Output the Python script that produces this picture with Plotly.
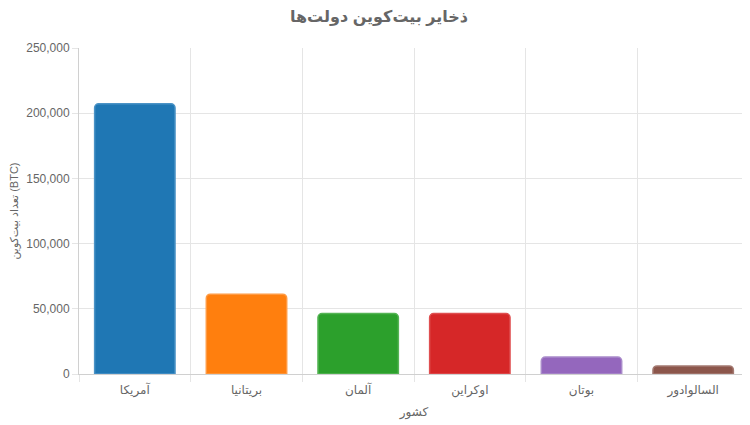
import plotly.graph_objects as go

# data
countries = ["آمریکا", "بریتانیا", "آلمان", "اوکراین", "بوتان", "السالوادور"]
btc_holdings = [207189, 61245, 46359, 46351, 13029, 6200]
bar_colors = ["#1f77b4", "#ff7f0e", "#2ca02c", "#d62728", "#9467bd", "#8c564b"]
border_colors = ["#4b93c6", "#ff9a42", "#55b455", "#df4f50", "#a98bca", "#a47a72"]

y_ticks = [0, 50000, 100000, 150000, 200000, 250000]

font_family = "Liberation Sans, Arial, DejaVu Sans, sans-serif"
grid = "#e5e5e5"

fig = go.Figure()

fig.add_trace(go.Bar(
    x=countries,
    y=btc_holdings,
    width=0.72,
    marker=dict(color=bar_colors,
                line=dict(color=border_colors, width=1.5),
                cornerradius=4),
    hoverinfo="x+y",
))

# page body has an 8px margin, so the figure is a bit smaller than the window
fig.update_layout(
    width=742, height=417,
    margin=dict(l=71, r=1, t=40, b=51),
    paper_bgcolor="white",
    plot_bgcolor="white",
    showlegend=False,
    font=dict(family=font_family, size=12, color="#666666"),
    title=dict(text="<b>ذخایر بیت‌کوین دولت‌ها</b>",
               x=0.5, xanchor="center", y=0.98, yanchor="middle",
               font=dict(size=16, color="#666666")),
)

# x axis - grid lines on the category boundaries, like chart.js
fig.update_xaxes(
    type="category",
    tickson="boundaries",
    automargin=False,
    ticks="outside", ticklen=7, tickcolor=grid,
    ticklabelstandoff=5,
    showgrid=True, gridcolor=grid, gridwidth=1,
    showline=True, linecolor="#d0d0d0", linewidth=1,
    tickfont=dict(size=12, color="#666666"),
    title=dict(text="کشور", standoff=10, font=dict(size=12, color="#666666")),
)

fig.update_yaxes(
    range=[0, 250000],
    tickvals=y_ticks,
    tickformat=",",
    automargin=False,
    ticks="outside", ticklen=6, tickcolor=grid,
    showgrid=True, gridcolor=grid, gridwidth=1,
    zeroline=False,
    showline=True, linecolor="#d0d0d0", linewidth=1,
    tickfont=dict(size=12, color="#666666"),
    title=dict(text="تعداد بیت‌کوین (BTC)", standoff=12, font=dict(size=11, color="#666666")),
)

fig.write_html("out.html")
